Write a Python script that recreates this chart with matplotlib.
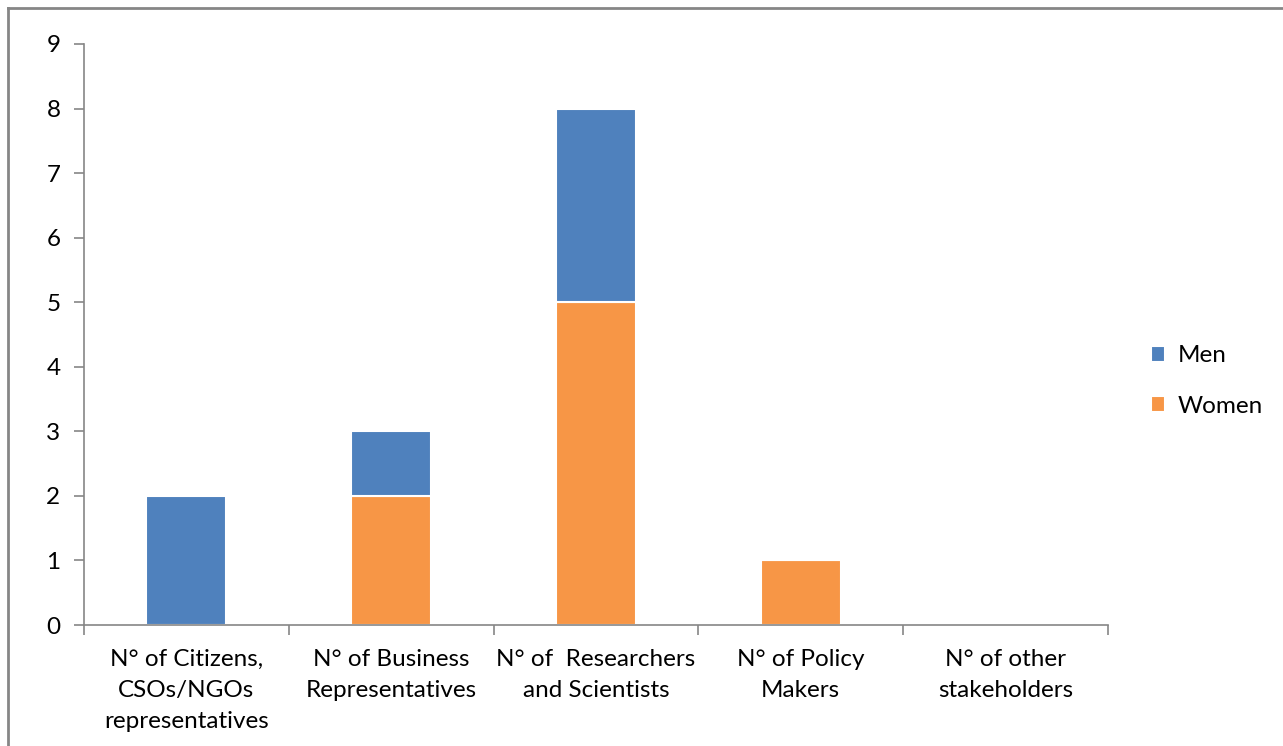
import matplotlib
matplotlib.use("Agg")
import matplotlib.pyplot as plt
from matplotlib.lines import Line2D
import numpy as np

plt.rcParams['font.family'] = ['Lato', 'DejaVu Sans']

categories = ["N° of Citizens,\nCSOs/NGOs\nrepresentatives",
              "N° of Business\nRepresentatives",
              "N° of  Researchers\nand Scientists",
              "N° of Policy\nMakers",
              "N° of other\nstakeholders"]
women = [0, 2, 5, 1, 0]
men = [2, 1, 3, 0, 0]

blue = "#4F81BD"
orange = "#F79646"
grey = "#868686"

fig = plt.figure(figsize=(12.83, 7.46), dpi=100)
ax = fig.add_axes([84 / 1283, 1 - 625 / 746, (1108 - 84) / 1283, (625 - 44) / 746])

x = np.arange(len(categories))
w = 0.39
ax.bar(x, women, w, color=orange, edgecolor="white", linewidth=1.5, label="Women", zorder=2)
ax.bar(x, men, w, bottom=women, color=blue, edgecolor="white", linewidth=1.5, label="Men", zorder=2)

ax.set_xlim(-0.5, len(categories) - 0.5)
ax.set_ylim(0, 9)
ax.set_yticks(range(10))
ax.tick_params(axis='y', labelsize=17.5, length=7, color=grey, width=1.2, pad=10)
ax.set_xticks(x)
ax.set_xticklabels(categories, fontsize=17.5, linespacing=1.6)
ax.tick_params(axis='x', length=0, pad=17)
ax.set_xticks(np.arange(len(categories) + 1) - 0.5, minor=True)
ax.tick_params(axis='x', which='minor', length=7, color=grey, width=1.2)

for s in ["top", "right"]:
    ax.spines[s].set_visible(False)
for s in ["left", "bottom"]:
    ax.spines[s].set_color(grey)
    ax.spines[s].set_linewidth(1.2)
    ax.spines[s].set_zorder(3)

handles, labels = ax.get_legend_handles_labels()
fig.legend(handles[::-1], labels[::-1], loc="center left", bbox_to_anchor=(1129 / 1283, 1 - 381 / 746),
           frameon=False, fontsize=17.5, handlelength=0.6, handleheight=0.6,
           handletextpad=0.5, labelspacing=1.2)

# outer chart frame
fig.add_artist(Line2D([7.5 / 1283, 7.5 / 1283], [0, 1 - 8 / 746], color=grey, lw=2))
fig.add_artist(Line2D([7.5 / 1283, 1], [1 - 8 / 746, 1 - 8 / 746], color=grey, lw=2))

fig.savefig("out.png", dpi=100)
